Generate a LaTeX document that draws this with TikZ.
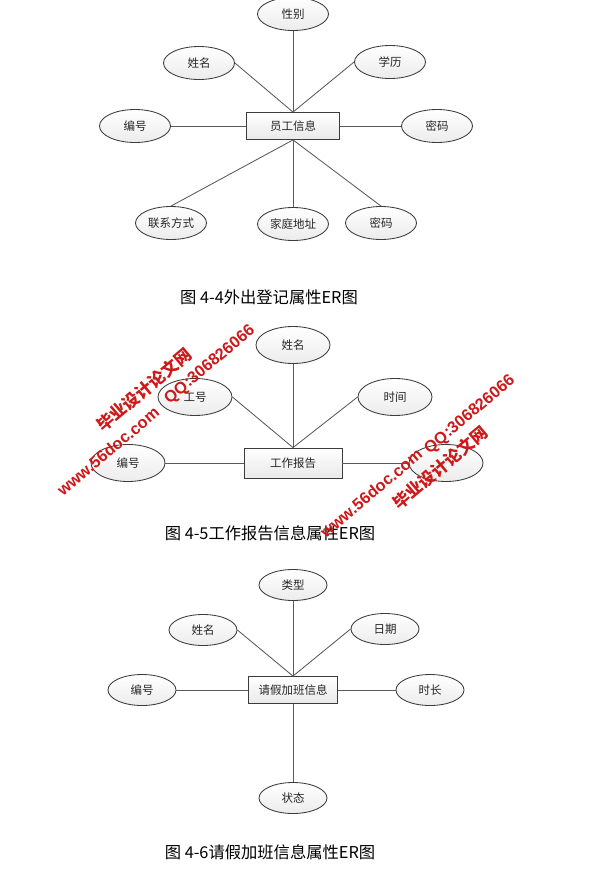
\documentclass[tikz,border=0pt]{standalone}
\usepackage{fontspec}
\setmainfont{Liberation Sans}
\newfontfamily\cjk{Noto Sans CJK SC}
\usetikzlibrary{shapes.geometric}
\definecolor{edgec}{RGB}{90,90,90}
\definecolor{bordc}{RGB}{60,60,60}
\definecolor{wmred}{RGB}{205,25,25}
\tikzset{
  attr/.style={ellipse, draw=bordc, line width=0.85pt, top color=white, bottom color=gray!15,
    inner sep=0pt, font=\cjk\fontsize{11.5}{12}\selectfont, text=black!85},
  attrA/.style={attr, minimum width=71, minimum height=33},
  attrB/.style={attr, minimum width=74, minimum height=37},
  attrC/.style={attr, minimum width=68, minimum height=31},
  ent/.style={rectangle, draw=bordc, line width=0.85pt, top color=white, bottom color=gray!17,
    inner sep=0pt, font=\cjk\fontsize{11.5}{12}\selectfont, text=black!85},
  link/.style={draw=edgec, line width=0.85pt},
  captext/.style={font=\cjk\fontsize{16.3}{17}\selectfont, inner sep=0pt},
  wmlat/.style={text=wmred, font=\bfseries\fontsize{16.3}{16}\selectfont, rotate=40, inner sep=0pt},
  wmcjk/.style={text=wmred, font=\cjk\bfseries\fontsize{16.8}{17}\selectfont, rotate=40, inner sep=0pt}
}
\begin{document}
\begin{tikzpicture}[x=1pt,y=-1pt]
\useasboundingbox[fill=white] (0,0) rectangle (589,884);
% ---------- Figure 4-4 ----------
\node[ent, minimum width=93, minimum height=27] (r1) at (293,126) {员工信息};
\node[attrA] (e1sex) at (293,14) {性别};
\node[attrA] (e1name) at (199,63) {姓名};
\node[attrA] (e1edu) at (390,62) {学历};
\node[attrA] (e1id) at (135,126) {编号};
\node[attrA] (e1pwd) at (437,126) {密码};
\node[attrA] (e1tel) at (171,223) {联系方式};
\node[attrA] (e1addr) at (293,224) {家庭地址};
\node[attrA] (e1pwd2) at (381,223) {密码};
\draw[link] (r1.north) -- (e1sex.south);
\draw[link] (r1.north) -- (e1name.east);
\draw[link] (r1.north) -- (e1edu.west);
\draw[link] (r1.west) -- (e1id.east);
\draw[link] (r1.east) -- (e1pwd.west);
\draw[link] (r1.south) -- (e1tel.north);
\draw[link] (r1.south) -- (e1addr.north);
\draw[link] (r1.south) -- (e1pwd2.north);
\node[captext] (c1) at (269,297) {图 4-4外出登记属性ER图};
% ---------- Figure 4-5 ----------
\node[ent, minimum width=98, minimum height=30] (r2) at (293,463) {工作报告};
\node[attrB] (e2name) at (293,345) {姓名};
\node[attrB] (e2no) at (195,397) {工号};
\node[attrB] (e2time) at (395,397) {时间};
\node[attrB] (e2id) at (128,463) {编号};
\node[attrB] (e2hid) at (446,463) {};
\draw[link] (r2.north) -- (e2name.south);
\draw[link] (r2.north) -- (e2no.east);
\draw[link] (r2.north) -- (e2time.west);
\draw[link] (r2.west) -- (e2id.east);
\draw[link] (r2.east) -- (e2hid.west);
\node[captext] (c2) at (270,533) {图 4-5工作报告信息属性ER图};
% ---------- Figure 4-6 ----------
\node[ent, minimum width=89, minimum height=27] (r3) at (293,690) {请假加班信息};
\node[attrC] (e3type) at (293,585) {类型};
\node[attrC] (e3name) at (203,630) {姓名};
\node[attrC] (e3date) at (385,629) {日期};
\node[attrC] (e3id) at (142,690) {编号};
\node[attrC] (e3dur) at (430,690) {时长};
\node[attrC] (e3state) at (293,798) {状态};
\draw[link] (r3.north) -- (e3type.south);
\draw[link] (r3.north) -- (e3name.east);
\draw[link] (r3.north) -- (e3date.west);
\draw[link] (r3.west) -- (e3id.east);
\draw[link] (r3.east) -- (e3dur.west);
\draw[link] (r3.south) -- (e3state.north);
\node[captext] (c3) at (270,852) {图 4-6请假加班信息属性ER图};
% ---------- watermarks ----------
\node[wmlat] (w1a) at (108,451) {www.56doc.com};
\node[wmcjk] (w1b) at (144,390) {毕业设计论文网};
\node[wmlat] (w1c) at (210,365) {QQ:306826066};
\node[wmlat] (w2a) at (371,493) {www.56doc.com};
\node[wmcjk] (w2b) at (440,468) {毕业设计论文网};
\node[wmlat] (w2c) at (470,415) {QQ:306826066};
\end{tikzpicture}
\end{document}
